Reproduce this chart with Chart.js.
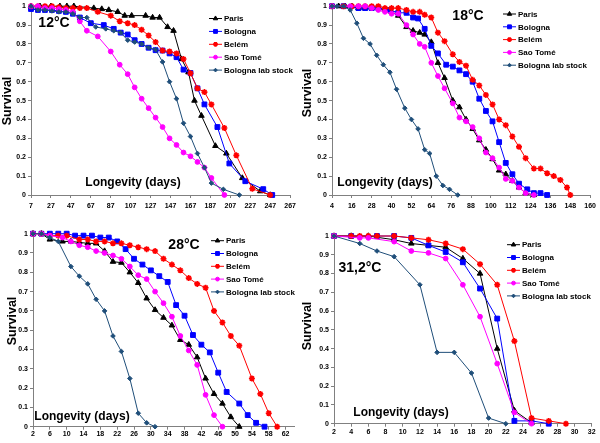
<!DOCTYPE html>
<html>
<head>
<meta charset="utf-8">
<script src="https://cdn.jsdelivr.net/npm/chart.js@4.4.0/dist/chart.umd.min.js"></script>
<style>
  body { margin: 0; background: #fff; }
  #wrap { position: relative; width: 600px; height: 443px; }
  canvas { position: absolute; }
</style>
</head>
<body>
<div id="wrap">
  <canvas id="c12" width="300" height="222" style="left:0;top:0"></canvas>
  <canvas id="c18" width="300" height="222" style="left:300px;top:0"></canvas>
  <canvas id="c28" width="300" height="221" style="left:0;top:222px"></canvas>
  <canvas id="c31" width="300" height="221" style="left:300px;top:222px"></canvas>
</div>
<script>
// series names (legend order)
const seriesNames = ['Paris', 'Bologna', 'Belém', 'Sao Tomé', 'Bologna lab stock'];

// y axis ticks
const yTicks = [0, 0.1, 0.2, 0.3, 0.4, 0.5, 0.6, 0.7, 0.8, 0.9, 1];
const yTickLabels = ['0', '0.1', '0.2', '0.3', '0.4', '0.5', '0.6', '0.7', '0.8', '0.9', '1'];

// x axis ticks per panel
const xTicks12 = [7, 27, 47, 67, 87, 107, 127, 147, 167, 187, 207, 227, 247, 267];
const xTicks18 = [4, 16, 28, 40, 52, 64, 76, 88, 100, 112, 124, 136, 148, 160];
const xTicks28 = [2, 6, 10, 14, 18, 22, 26, 30, 34, 38, 42, 46, 50, 54, 58, 62];
const xTicks31 = [2, 4, 6, 8, 10, 12, 14, 16, 18, 20, 22, 24, 26, 28, 30, 32];

// 12°C  [day, survival]
const paris12 = [[7,1],[16,1],[27,1],[36,1],[43,1],[50,1],[70,0.99],[78,0.985],[85,0.98],[94,0.97],[101,0.95],[108,0.95],[122,0.95],[129,0.94],[136,0.94],[144,0.89],[150,0.87],[158,0.72],[165,0.65],[171,0.50],[178,0.42],[192,0.26],[203,0.22],[219,0.09],[237,0.02],[247,0]];
const bologna12 = [[7,0.985],[14,0.98],[21,0.98],[28,0.98],[35,0.975],[42,0.97],[49,0.96],[56,0.94],[67,0.91],[80,0.90],[90,0.88],[97,0.86],[104,0.85],[111,0.82],[118,0.80],[125,0.78],[132,0.767],[139,0.765],[146,0.75],[153,0.73],[160,0.664],[167,0.646],[174,0.565],[181,0.48],[194,0.36],[206,0.167],[222,0.073],[240,0.031],[249,0]];
const belem12 = [[7,1],[14,1],[21,1],[28,1],[35,0.995],[42,0.99],[49,0.99],[56,0.99],[63,0.99],[74,0.97],[87,0.95],[96,0.92],[104,0.91],[111,0.90],[118,0.875],[125,0.845],[132,0.81],[139,0.765],[146,0.76],[153,0.75],[160,0.72],[167,0.645],[174,0.565],[181,0.545],[188,0.48],[201,0.355],[213,0.21],[229,0.033],[247,0]];
const saoTome12 = [[7,1],[14,1],[21,0.99],[28,0.99],[35,0.985],[42,0.98],[49,0.97],[56,0.92],[63,0.87],[74,0.84],[87,0.76],[96,0.69],[104,0.64],[111,0.57],[118,0.51],[125,0.46],[132,0.41],[139,0.36],[146,0.30],[153,0.265],[160,0.225],[167,0.205],[174,0.175],[181,0.145],[188,0.09],[201,0]];
const lab12 = [[7,1],[14,0.98],[21,0.98],[28,0.975],[35,0.97],[42,0.97],[49,0.96],[56,0.94],[63,0.94],[72,0.89],[82,0.88],[90,0.87],[97,0.86],[104,0.82],[111,0.81],[118,0.80],[125,0.78],[132,0.77],[139,0.705],[146,0.60],[153,0.51],[160,0.38],[167,0.31],[174,0.22],[181,0.145],[188,0.063],[200,0.03],[216,0]];

// 18°C
const paris18 = [[4,1],[8,1],[12,1],[16,1],[20,0.99],[24,0.99],[28,0.99],[32,0.99],[36,0.98],[40,0.97],[44,0.95],[49,0.89],[53,0.87],[57,0.86],[60,0.85],[64,0.81],[68,0.70],[72,0.62],[77,0.50],[81,0.465],[85,0.40],[89,0.35],[93,0.29],[97,0.24],[101,0.19],[105,0.13],[109,0.11],[113,0.075],[117,0.04],[121,0.01],[126,0]];
const bologna18 = [[4,1],[11,1],[20,0.99],[24,0.99],[28,0.99],[32,0.99],[39,0.98],[44,0.965],[49,0.965],[53,0.94],[56,0.935],[60,0.88],[64,0.79],[68,0.75],[73,0.69],[77,0.68],[81,0.66],[85,0.64],[89,0.60],[93,0.51],[97,0.445],[101,0.39],[105,0.28],[109,0.17],[113,0.11],[117,0.06],[122,0.03],[126,0.01],[130,0.01],[134,0]];
const belem18 = [[4,1],[11,1],[16,1],[20,1],[24,1],[28,1],[32,1],[36,0.99],[40,0.99],[44,0.99],[49,0.98],[53,0.97],[57,0.97],[60,0.955],[64,0.94],[68,0.86],[72,0.815],[77,0.745],[81,0.705],[85,0.685],[89,0.61],[93,0.58],[97,0.53],[101,0.48],[105,0.40],[109,0.37],[113,0.31],[117,0.255],[121,0.195],[126,0.14],[130,0.14],[134,0.115],[138,0.10],[142,0.08],[146,0.04],[148,0]];
const saoTome18 = [[4,1],[15,1],[20,1],[24,1],[28,0.99],[32,0.98],[36,0.97],[40,0.96],[44,0.96],[49,0.90],[53,0.85],[57,0.80],[60,0.785],[64,0.70],[68,0.63],[72,0.565],[77,0.485],[81,0.41],[85,0.39],[89,0.36],[93,0.30],[97,0.225],[101,0.195],[105,0.145],[109,0.085],[113,0.075],[117,0.04],[121,0.01],[126,0]];
const lab18 = [[4,1],[7,1],[11,1],[15,0.98],[19,0.91],[23,0.83],[27,0.80],[31,0.74],[35,0.69],[39,0.65],[43,0.56],[48,0.46],[52,0.40],[56,0.35],[60,0.24],[63,0.22],[67,0.10],[71,0.05],[75,0.03],[80,0]];

// 28°C
const paris28 = [[2,1],[4,1],[6,0.97],[9,0.96],[11,0.96],[13,0.955],[15,0.95],[17,0.95],[19,0.91],[21,0.855],[23,0.85],[25,0.80],[27,0.745],[29,0.665],[31,0.605],[33,0.565],[35,0.525],[37,0.45],[39,0.425],[41,0.36],[43,0.25],[45,0.17],[47,0.12],[49,0.05],[51,0]];
const bologna28 = [[2,1],[4,1],[6,1],[8,1],[10,1],[12,0.99],[14,0.99],[16,0.99],[18,0.98],[20,0.98],[22,0.96],[24,0.92],[26,0.87],[28,0.84],[30,0.81],[32,0.78],[34,0.75],[36,0.63],[38,0.575],[40,0.475],[42,0.425],[44,0.385],[46,0.28],[48,0.18],[51,0.12],[53,0.06],[55,0.02],[57,0]];
const belem28 = [[2,1],[4,1],[6,0.99],[8,0.99],[10,0.99],[13,0.97],[15,0.97],[17,0.96],[19,0.96],[21,0.95],[23,0.95],[25,0.94],[27,0.93],[29,0.92],[31,0.91],[33,0.87],[35,0.84],[37,0.81],[39,0.77],[41,0.74],[43,0.72],[45,0.60],[47,0.54],[49,0.47],[51,0.42],[54,0.25],[56,0.17],[58,0.07],[60,0]];
const saoTome28 = [[2,1],[4,1],[6,0.99],[9,0.98],[11,0.96],[13,0.94],[15,0.93],[17,0.91],[19,0.90],[21,0.887],[23,0.87],[25,0.83],[27,0.785],[29,0.765],[31,0.70],[33,0.64],[35,0.57],[37,0.47],[39,0.395],[41,0.32],[43,0.165],[45,0.06],[47,0]];
const lab28 = [[2,1],[4,1],[6,0.98],[8,0.96],[11,0.83],[13,0.78],[15,0.74],[17,0.66],[19,0.60],[21,0.47],[23,0.39],[25,0.25],[27,0.07],[29,0.02],[31,0]];

// 31,2°C
const paris31 = [[2,1],[4,1],[6,1],[9,0.98],[11,0.96],[13,0.95],[15,0.94],[17,0.88],[19,0.80],[21,0.40],[23,0.07],[25,0.005]];
const bologna31 = [[2,1],[4,1],[7,1],[9,1],[11,0.99],[13,0.95],[15,0.915],[17,0.86],[19,0.72],[21,0.56],[23,0.015],[25,0.015],[27,0]];
const belem31 = [[2,1],[4,1],[5,1],[6,1],[7,1],[9,1],[11,0.99],[13,0.98],[15,0.96],[17,0.93],[19,0.85],[21,0.74],[23,0.44],[25,0.03],[27,0.015],[29,0]];
const saoTome31 = [[2,1],[5,0.99],[6,0.99],[9,0.97],[11,0.92],[13,0.91],[15,0.88],[17,0.74],[19,0.57],[21,0.32],[23,0.06],[25,0]];
const lab31 = [[2,1],[5,0.96],[7,0.92],[9,0.89],[12,0.74],[14,0.38],[16,0.38],[18,0.27],[20,0.03],[22,0]];

const FONT = '"Liberation Sans", Arial, sans-serif';

const seriesStyles = [
  { color: '#000000', point: 'triangle', radius: 3.2, order: 5 },
  { color: '#0000ff', point: 'rect', radius: 3.4, order: 4 },
  { color: '#ff0000', point: 'star', radius: 3, order: 3 },
  { color: '#ff00ff', point: 'circle', radius: 2.4, order: 2 },
  { color: '#1f4e79', point: 'rectRot', radius: 2.3, order: 1 },
];

// draws temperature, axis titles and the legend inside each panel
const panelText = {
  id: 'panelText',
  afterDraw(chart, args, o) {
    const ctx = chart.ctx;
    ctx.save();
    ctx.fillStyle = '#000';
    ctx.textAlign = 'center';
    ctx.textBaseline = 'middle';
    ctx.font = 'bold 14px ' + FONT;
    ctx.fillText(o.temp, o.tempX, o.tempY);
    ctx.font = 'bold 12px ' + FONT;
    ctx.fillText('Longevity (days)', o.xTitleX, o.xTitleY);
    ctx.save();
    ctx.translate(o.yTitleX, o.yTitleY);
    ctx.rotate(-Math.PI / 2);
    ctx.font = 'bold 12.5px ' + FONT;
    ctx.fillText('Survival', 0, 0);
    ctx.restore();

    ctx.textAlign = 'left';
    ctx.font = 'bold 8px ' + FONT;
    chart.data.datasets.forEach((ds, i) => {
      const y = o.legY + i * o.legStep;
      ctx.strokeStyle = ds.borderColor;
      ctx.lineWidth = 1;
      ctx.beginPath();
      ctx.moveTo(o.legX, y);
      ctx.lineTo(o.legX + 13, y);
      ctx.stroke();
      ctx.fillStyle = ds.pointBackgroundColor;
      ctx.strokeStyle = ds.borderColor;
      ctx.lineWidth = ds.pointBorderWidth;
      Chart.helpers.drawPoint(ctx, { pointStyle: ds.pointStyle, radius: ds.pointRadius * 0.8, borderWidth: ds.pointBorderWidth, rotation: 0 }, o.legX + 6.5, y);
      ctx.fillStyle = '#000';
      ctx.fillText(ds.label, o.legX + 15, y + 0.5);
    });
    ctx.restore();
  }
};

function makePanel(id, series, xTicks, xMin, xMax, box, text) {
  const canvas = document.getElementById(id);
  const W = canvas.width, H = canvas.height;
  const datasets = series.map((pts, i) => ({
    label: seriesNames[i],
    data: pts.map(p => ({ x: p[0], y: p[1] })),
    borderColor: seriesStyles[i].color,
    backgroundColor: seriesStyles[i].color,
    pointBackgroundColor: seriesStyles[i].color,
    pointBorderColor: seriesStyles[i].color,
    pointStyle: seriesStyles[i].point,
    pointRadius: seriesStyles[i].radius,
    pointBorderWidth: seriesStyles[i].point === 'star' ? 1.6 : 1,
    borderWidth: 1,
    tension: 0,
    clip: false,
    order: seriesStyles[i].order,
  }));

  return new Chart(canvas, {
    type: 'line',
    data: { datasets },
    plugins: [panelText],
    options: {
      responsive: false,
      animation: false,
      layout: { padding: { top: box.top, right: W - box.right, left: 0, bottom: 0 } },
      plugins: {
        legend: { display: false },
        tooltip: { enabled: false },
        panelText: text,
      },
      scales: {
        x: {
          type: 'linear',
          min: xMin,
          max: xMax,
          afterBuildTicks: s => { s.ticks = xTicks.map(v => ({ value: v })); },
          afterFit: s => { s.height = H - box.bottom; },
          ticks: { color: '#000', font: { size: 7, weight: 'bold', family: FONT }, padding: box.xPad, maxRotation: 0, autoSkip: false },
          grid: { drawOnChartArea: false, tickLength: 3, color: '#808080' },
          border: { color: '#808080' },
        },
        y: {
          min: 0,
          max: 1,
          afterBuildTicks: s => { s.ticks = yTicks.map(v => ({ value: v })); },
          afterFit: s => { s.width = box.left; },
          ticks: { color: '#000', font: { size: 7, weight: 'bold', family: FONT }, padding: 2, callback: (v, i) => yTickLabels[i] },
          grid: { drawOnChartArea: false, tickLength: 3, color: '#808080' },
          border: { color: '#808080' },
        }
      }
    }
  });
}

makePanel('c12', [paris12, bologna12, belem12, saoTome12, lab12], xTicks12, 7, 267,
  { left: 31, right: 292, top: 4, bottom: 195, xPad: 4 },
  { temp: '12°C', tempX: 54, tempY: 23, xTitleX: 133, xTitleY: 183, yTitleX: 8, yTitleY: 101, legX: 209, legY: 18.5, legStep: 12.9 });

makePanel('c18', [paris18, bologna18, belem18, saoTome18, lab18], xTicks18, 4, 160,
  { left: 32, right: 292, top: 4, bottom: 195, xPad: 4 },
  { temp: '18°C', tempX: 168, tempY: 16, xTitleX: 85, xTitleY: 183, yTitleX: 8, yTitleY: 93, legX: 203, legY: 14, legStep: 12.8 });

makePanel('c28', [paris28, bologna28, belem28, saoTome28, lab28], xTicks28, 2, 64,
  { left: 33, right: 294, top: 11.7, bottom: 204.7, xPad: 0 },
  { temp: '28°C', tempX: 184, tempY: 22.7, xTitleX: 82, xTitleY: 195, yTitleX: 13, yTitleY: 99, legX: 211, legY: 18.7, legStep: 12.8 });

makePanel('c31', [paris31, bologna31, belem31, saoTome31, lab31], xTicks31, 2, 32,
  { left: 34, right: 291.7, top: 14, bottom: 201.7, xPad: 1.5 },
  { temp: '31,2°C', tempX: 60, tempY: 45.7, xTitleX: 101, xTitleY: 190.7, yTitleX: 8, yTitleY: 104, legX: 207, legY: 22.7, legStep: 12.8 });
</script>
</body>
</html>
